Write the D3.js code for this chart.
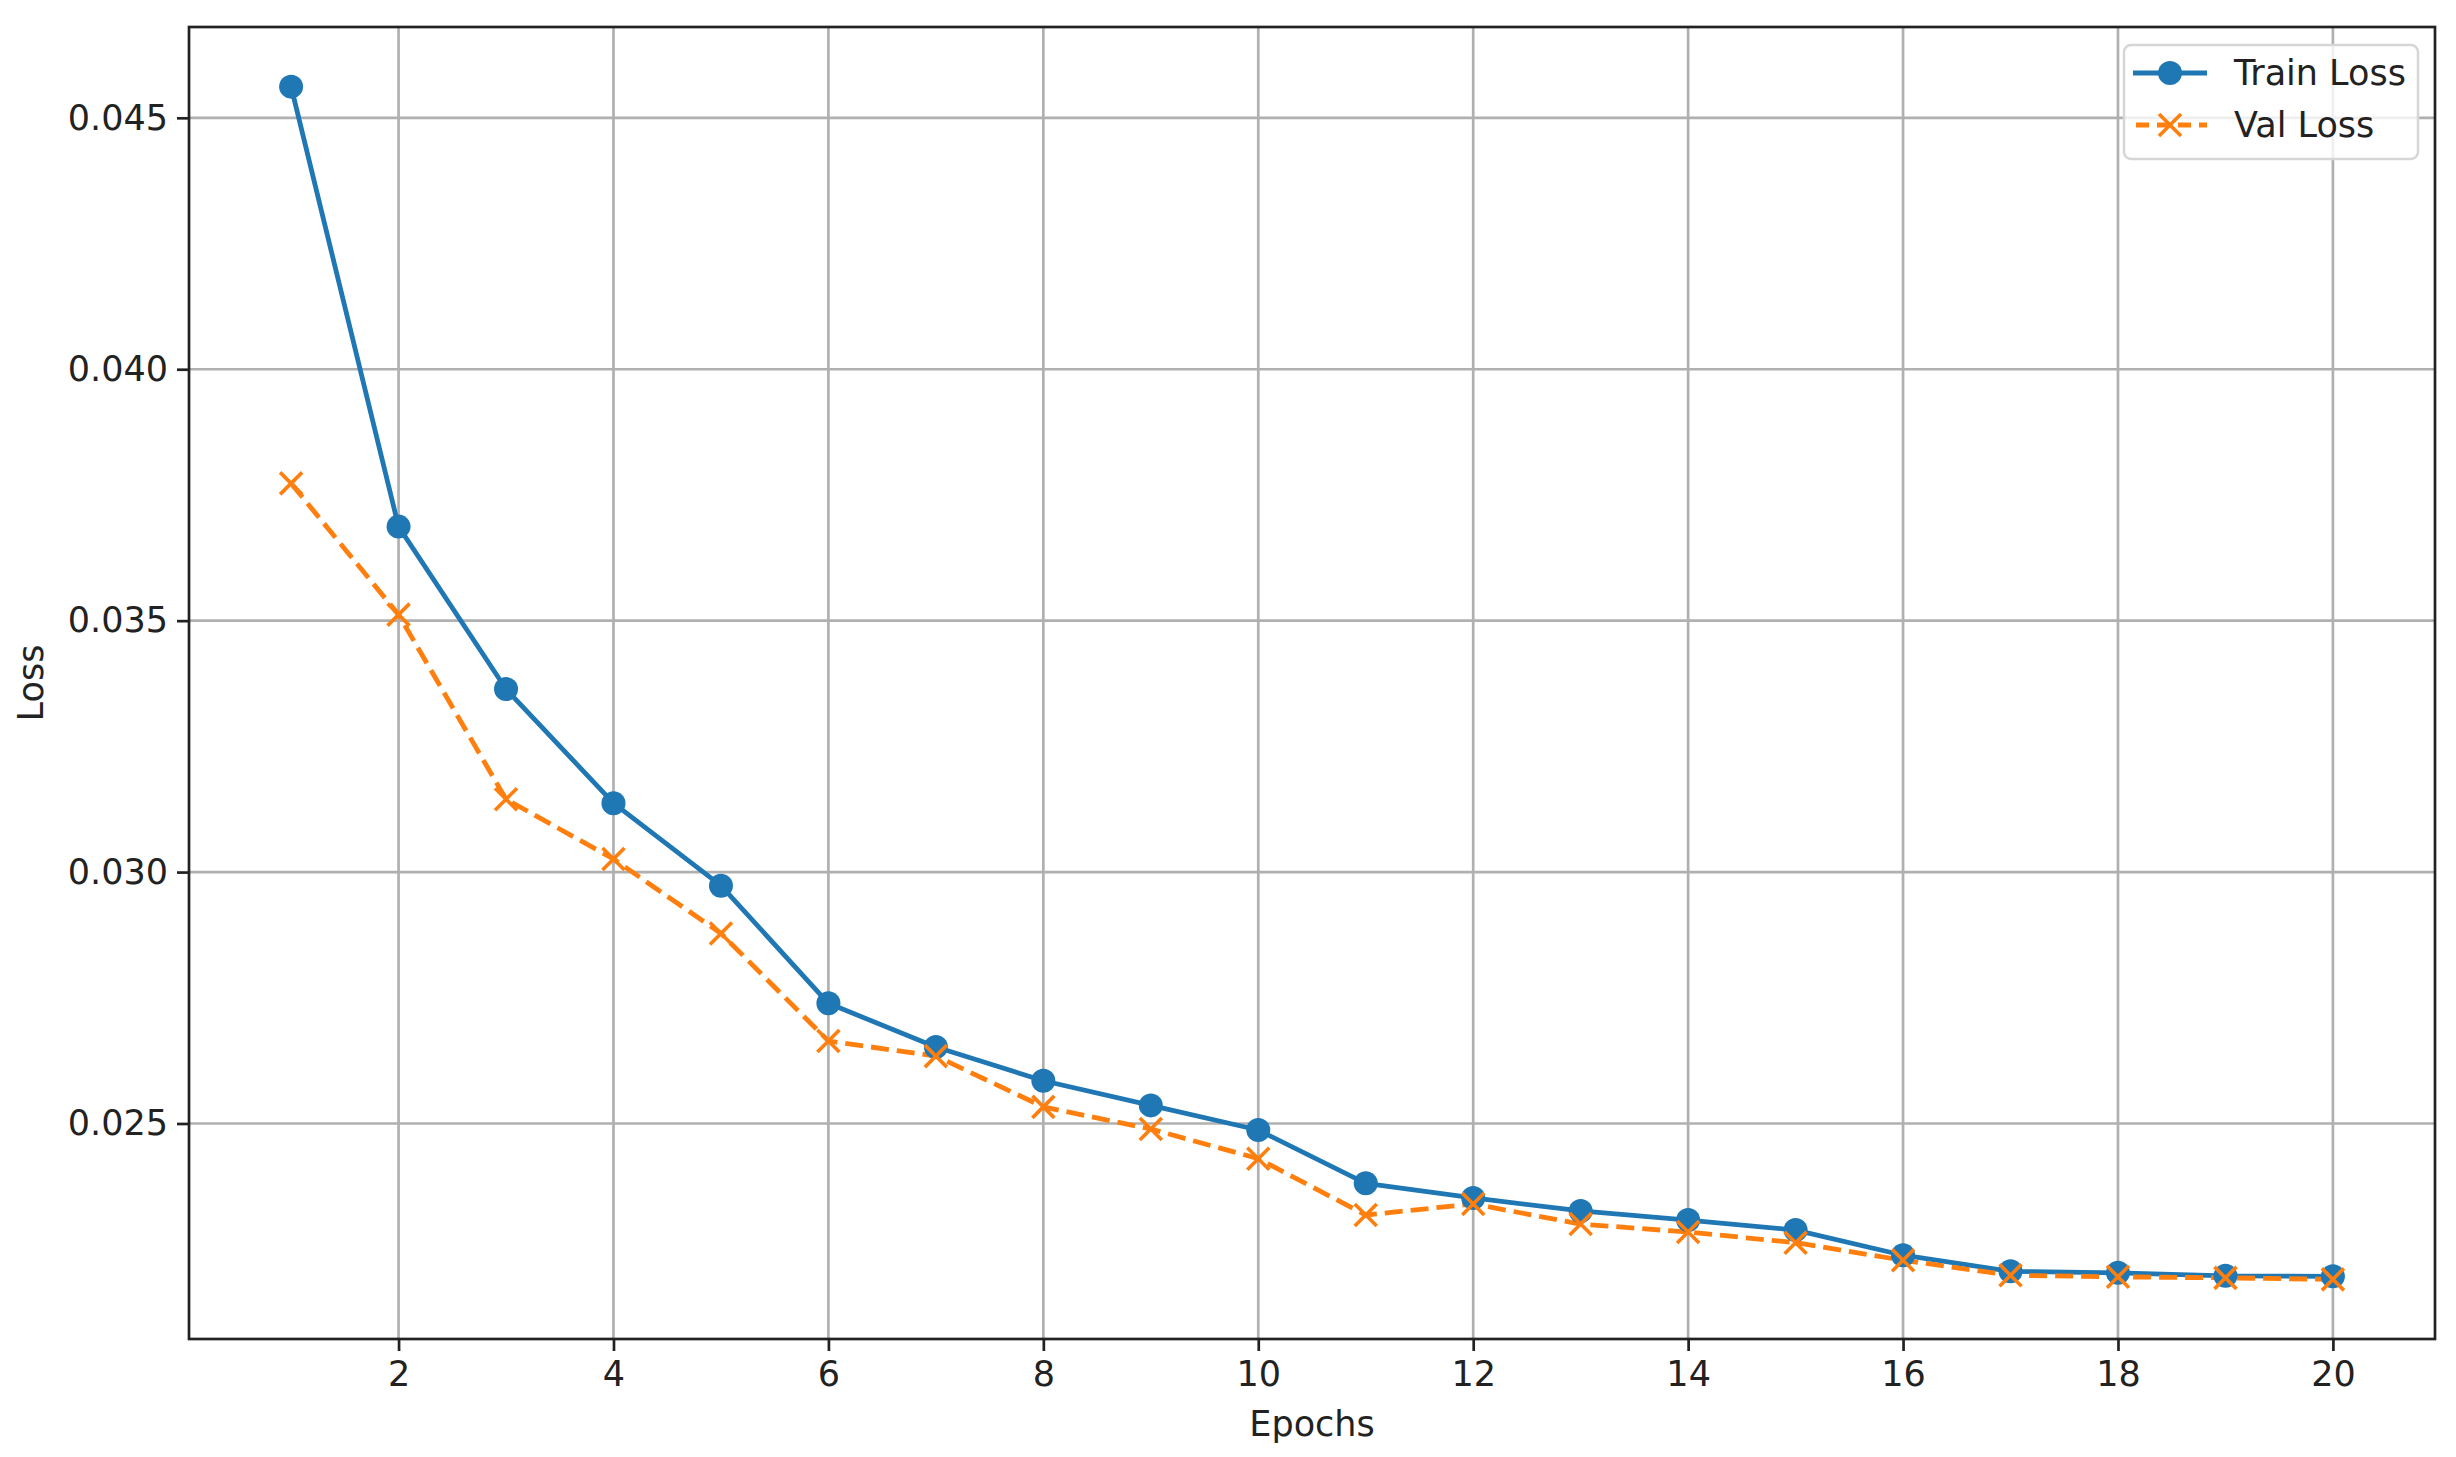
<!DOCTYPE html>
<html>
<head>
<meta charset="utf-8">
<script src="https://cdnjs.cloudflare.com/ajax/libs/d3/7.8.5/d3.min.js"></script>
<style>
  body { margin: 0; background: #fff; }
  text { font-family: "DejaVu Sans", sans-serif; fill: #222; }
</style>
</head>
<body>
<div class="chart"></div>
<script>
// data
var epochs = [1, 2, 3, 4, 5, 6, 7, 8, 9, 10, 11, 12, 13, 14, 15, 16, 17, 18, 19, 20];
var trainLoss = [0.04562, 0.03687, 0.03364, 0.03137, 0.02973, 0.02739, 0.02652, 0.02585, 0.02536, 0.02487,
  0.02381, 0.02352, 0.02326, 0.02308, 0.02288, 0.02238, 0.02206, 0.02203, 0.02197, 0.02196];
var valLoss = [0.03773, 0.03512, 0.03145, 0.03026, 0.02878, 0.02664, 0.02634, 0.02533, 0.02489, 0.02430,
  0.02318, 0.02340, 0.02300, 0.02284, 0.02263, 0.02228, 0.02198, 0.02195, 0.02193, 0.02190];
var xTicks = [2, 4, 6, 8, 10, 12, 14, 16, 18, 20];
var yTicks = [0.025, 0.030, 0.035, 0.040, 0.045];

var svgWidth = 2456;
var svgHeight = 1457;

var margin = {
  top: 27,
  right: 21,
  bottom: 118,
  left: 189
};

var width = svgWidth - margin.left - margin.right;
var height = svgHeight - margin.top - margin.bottom;

var blue = "#1f77b4";
var orange = "#ff7f0e";

var svg = d3
  .select(".chart")
  .append("svg")
  .attr("width", svgWidth)
  .attr("height", svgHeight);

svg.append("rect")
  .attr("width", svgWidth)
  .attr("height", svgHeight)
  .attr("fill", "#fff");

var chartGroup = svg.append("g")
  .attr("transform", `translate(${margin.left}, ${margin.top})`);

// matplotlib style 5% padding around the data
var xMin = d3.min(epochs), xMax = d3.max(epochs);
var xPad = (xMax - xMin) * 0.05;
var allLoss = trainLoss.concat(valLoss);
var yMin = d3.min(allLoss), yMax = d3.max(allLoss);
var yPad = (yMax - yMin) * 0.05;

var xScale = d3.scaleLinear()
  .domain([xMin - xPad, xMax + xPad])
  .range([0, width]);

var yScale = d3.scaleLinear()
  .domain([yMin - yPad, yMax + yPad])
  .range([height, 0]);

// grid lines
chartGroup.append("g")
  .selectAll("line")
  .data(xTicks)
  .enter()
  .append("line")
  .attr("x1", d => xScale(d))
  .attr("x2", d => xScale(d))
  .attr("y1", 0)
  .attr("y2", height)
  .attr("stroke", "#b0b0b0")
  .attr("stroke-width", 2.7);

chartGroup.append("g")
  .selectAll("line")
  .data(yTicks)
  .enter()
  .append("line")
  .attr("x1", 0)
  .attr("x2", width)
  .attr("y1", d => yScale(d))
  .attr("y2", d => yScale(d))
  .attr("stroke", "#b0b0b0")
  .attr("stroke-width", 2.7);

// axes
var bottomAxis = d3.axisBottom(xScale)
  .tickValues(xTicks)
  .tickSize(12)
  .tickPadding(10)
  .tickFormat(d3.format("d"));

var leftAxis = d3.axisLeft(yScale)
  .tickValues(yTicks)
  .tickSize(12)
  .tickPadding(9)
  .tickFormat(d3.format(".3f"));

var xAxis = chartGroup.append("g")
  .attr("transform", `translate(0, ${height})`)
  .call(bottomAxis);

var yAxis = chartGroup.append("g")
  .call(leftAxis);

[xAxis, yAxis].forEach(ax => {
  ax.select(".domain").remove();
  ax.selectAll(".tick line").attr("stroke", "#222").attr("stroke-width", 2.7);
  ax.selectAll(".tick text")
    .attr("font-size", "35px")
    .attr("fill", "#222")
    .style("font-family", "DejaVu Sans, sans-serif");
});

// frame
chartGroup.append("rect")
  .attr("width", width)
  .attr("height", height)
  .attr("fill", "none")
  .attr("stroke", "#222")
  .attr("stroke-width", 2.7);

// lines
var line = d3.line()
  .x((d, i) => xScale(epochs[i]))
  .y(d => yScale(d));

chartGroup.append("path")
  .datum(trainLoss)
  .attr("d", line)
  .attr("fill", "none")
  .attr("stroke", blue)
  .attr("stroke-width", 4.8)
  .attr("stroke-linejoin", "round");

chartGroup.append("path")
  .datum(valLoss)
  .attr("d", line)
  .attr("fill", "none")
  .attr("stroke", orange)
  .attr("stroke-width", 4.8)
  .attr("stroke-dasharray", "18,8");

// markers
chartGroup.selectAll(".trainDot")
  .data(trainLoss)
  .enter()
  .append("circle")
  .attr("class", "trainDot")
  .attr("cx", (d, i) => xScale(epochs[i]))
  .attr("cy", d => yScale(d))
  .attr("r", 12)
  .attr("fill", blue);

var xPath = "M-11,-11L11,11M-11,11L11,-11";

chartGroup.selectAll(".valMark")
  .data(valLoss)
  .enter()
  .append("path")
  .attr("class", "valMark")
  .attr("transform", (d, i) => `translate(${xScale(epochs[i])}, ${yScale(d)})`)
  .attr("d", xPath)
  .attr("stroke", orange)
  .attr("stroke-width", 3.6)
  .attr("fill", "none");

// axis labels
chartGroup.append("text")
  .attr("x", width / 2)
  .attr("y", height + 97)
  .attr("text-anchor", "middle")
  .attr("font-size", "35px")
  .text("Epochs");

chartGroup.append("text")
  .attr("transform", "rotate(-90)")
  .attr("x", -height / 2)
  .attr("y", 43 - margin.left)
  .attr("text-anchor", "middle")
  .attr("font-size", "35px")
  .text("Loss");

// legend
var legend = svg.append("g")
  .attr("transform", "translate(2124, 45)");

legend.append("rect")
  .attr("width", 294)
  .attr("height", 114)
  .attr("rx", 7)
  .attr("fill", "#fff")
  .attr("fill-opacity", 0.8)
  .attr("stroke", "#d6d6d6")
  .attr("stroke-width", 2.5);

var legendItems = [
  { label: "Train Loss", color: blue, dash: null, marker: "circle" },
  { label: "Val Loss", color: orange, dash: "18,8", marker: "x" }
];

legendItems.forEach((item, i) => {
  var yy = 28 + i * 52;
  legend.append("line")
    .attr("x1", 9)
    .attr("x2", 83)
    .attr("y1", yy)
    .attr("y2", yy)
    .attr("stroke", item.color)
    .attr("stroke-width", 4.8)
    .attr("stroke-dasharray", item.dash ? "13,8" : null)
    .attr("stroke-dashoffset", item.dash ? -3 : null);
  if (item.marker === "circle") {
    legend.append("circle")
      .attr("cx", 46)
      .attr("cy", yy)
      .attr("r", 12)
      .attr("fill", item.color);
  } else {
    legend.append("path")
      .attr("transform", `translate(46, ${yy})`)
      .attr("d", xPath)
      .attr("stroke", item.color)
      .attr("stroke-width", 3.6)
      .attr("fill", "none");
  }
  legend.append("text")
    .attr("x", 110)
    .attr("y", yy + 12)
    .attr("font-size", "35px")
    .text(item.label);
});
</script>
</body>
</html>
